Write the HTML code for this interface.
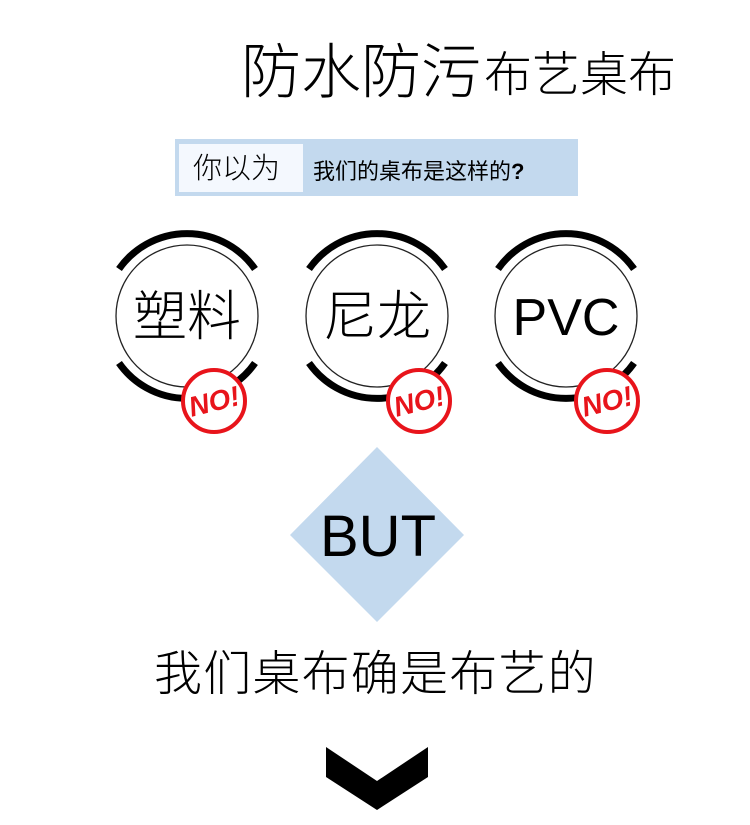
<!DOCTYPE html>
<html><head><meta charset="utf-8"><style>
body{margin:0;background:#fff;}
svg text{font-family:"Liberation Sans","Noto Sans CJK SC",sans-serif;}
</style></head><body>
<svg width="750" height="820" viewBox="0 0 750 820" xmlns="http://www.w3.org/2000/svg">
<rect width="750" height="820" fill="#fff"/>
<text x="241" y="93" font-size="60" font-weight="300" fill="#000">防水防污</text>
<text x="484" y="91" font-size="48" font-weight="300" fill="#000">布艺桌布</text>
<rect x="175" y="139" width="403" height="57" fill="#c3d9ee"/>
<rect x="179" y="144" width="124" height="48" fill="#f4f8fe"/>
<text x="193" y="178" font-size="29" font-weight="300" fill="#000">你以为</text>
<text x="313" y="179" font-size="22" fill="#000">我们的桌布是这样的<tspan font-weight="bold">?</tspan></text>
<defs>
<g id="ring">
<path d="M -68 -47 A 83 83 0 0 1 68 -47" fill="none" stroke="#000" stroke-width="7"/>
<path d="M -68 47 A 83 83 0 0 0 68 47" fill="none" stroke="#000" stroke-width="7"/>
<circle r="71" fill="#fff" stroke="#222" stroke-width="1.3"/>
</g>
<g id="no">
<circle r="31" fill="#fff" stroke="#e8141b" stroke-width="4"/>
<text x="0" y="10" font-size="28" font-weight="bold" font-style="italic" fill="#e8141b" text-anchor="middle" transform="rotate(-14)">NO!</text>
</g>
</defs>
<g transform="translate(187,316)"><use href="#ring"/><text y="19" font-size="54" font-weight="300" text-anchor="middle">塑料</text></g>
<g transform="translate(377,316)"><use href="#ring"/><text y="19" font-size="54" font-weight="300" text-anchor="middle">尼龙</text></g>
<g transform="translate(566,316)"><use href="#ring"/><text y="19" font-size="52" font-weight="300" text-anchor="middle">PVC</text></g>
<use href="#no" x="214" y="401"/>
<use href="#no" x="419" y="401"/>
<use href="#no" x="607" y="401"/>
<polygon points="377,447 464,535 377,622 290,535" fill="#c3d9ee"/>
<text x="378" y="556" font-size="58" text-anchor="middle" fill="#000">BUT</text>
<text x="154" y="690" font-size="48" font-weight="300" letter-spacing="1.2" fill="#000">我们桌布确是布艺的</text>
<polygon points="326,747 377,781 428,747 428,777 377,810 326,777" fill="#000"/>
</svg>
</body></html>
